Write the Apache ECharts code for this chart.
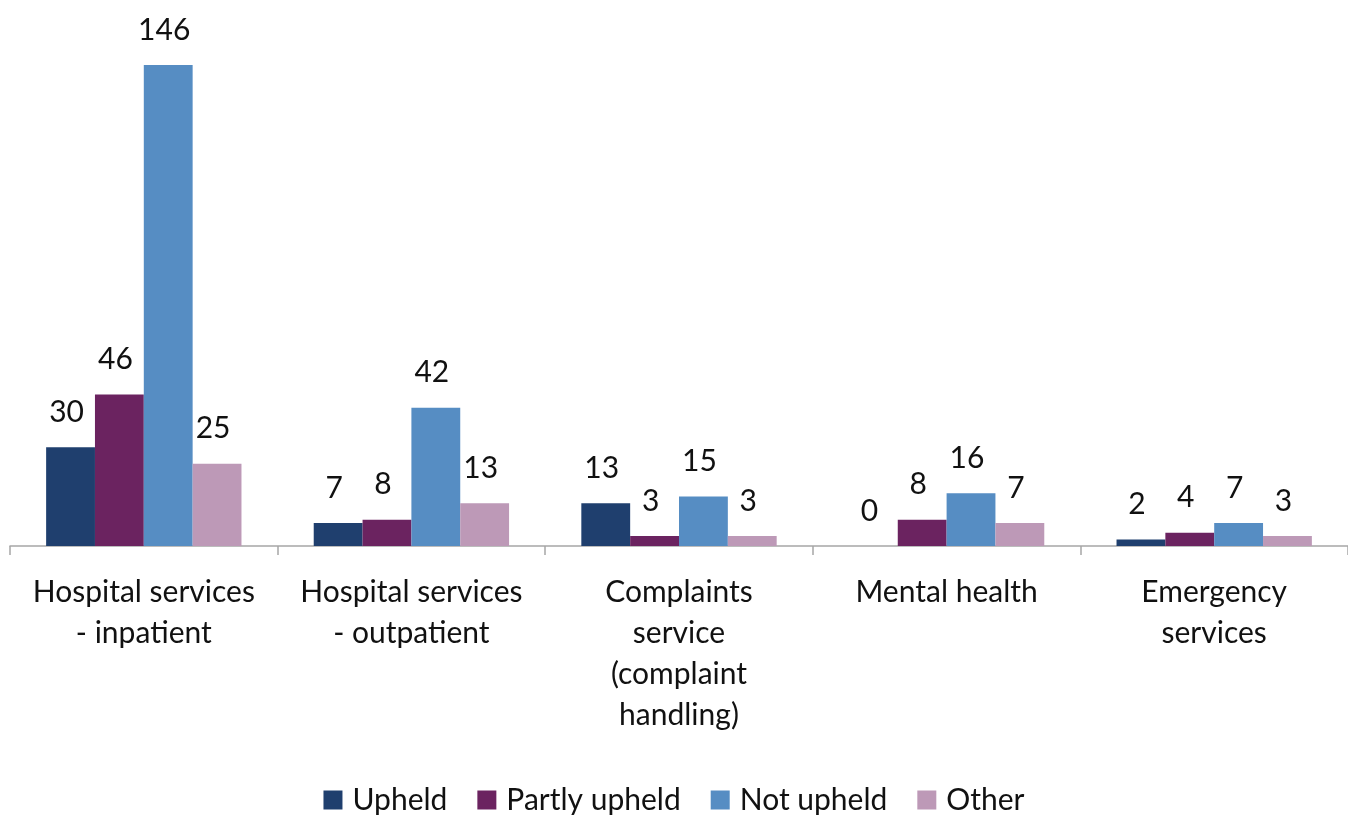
<!DOCTYPE html>
<html>
<head>
<meta charset="utf-8">
<script src="https://cdn.jsdelivr.net/npm/echarts@6/dist/echarts.min.js"></script>
<style>
  html, body { margin: 0; padding: 0; background: #ffffff; }
  #chart { width: 1348px; height: 817px; }
</style>
</head>
<body>
<div id="chart"></div>
<script>
// Complaint categories and outcome counts
const categories = [
  'Hospital services\n- inpatient',
  'Hospital services\n- outpatient',
  'Complaints\nservice\n(complaint\nhandling)',
  'Mental health',
  'Emergency\nservices'
];
const upheld = [30, 7, 13, 0, 2];
const partlyUpheld = [46, 8, 3, 8, 4];
const notUpheld = [146, 42, 15, 16, 7];
const other = [25, 13, 3, 7, 3];

const seriesNames = ['Upheld', 'Partly upheld', 'Not upheld', 'Other'];
const seriesColors = ['#1f3f6e', '#6b2360', '#568dc3', '#bd99b7'];
const seriesData = [upheld, partlyUpheld, notUpheld, other];

const FONT = 'Lato';

const chart = echarts.init(document.getElementById('chart'), null, { renderer: 'canvas' });

chart.setOption({
  animation: false,
  textStyle: { fontFamily: FONT },
  grid: { left: 10, right: 0, top: 65, bottom: 271, containLabel: false },
  legend: {
    top: 780,
    left: 'center',
    itemWidth: 19,
    itemHeight: 19,
    itemGap: 30,
    icon: 'rect',
    textStyle: { fontFamily: FONT, fontSize: 30, color: '#111', padding: [0, 0, 0, 5] },
    data: seriesNames
  },
  xAxis: {
    type: 'category',
    data: categories,
    axisLine: { lineStyle: { color: '#a6a6a6', width: 1.5 } },
    axisTick: { show: true, length: 9, lineStyle: { color: '#a6a6a6', width: 1.5 } },
    axisLabel: {
      interval: 0,
      margin: 26,
      fontFamily: FONT,
      fontSize: 30,
      lineHeight: 41,
      color: '#111'
    }
  },
  yAxis: {
    type: 'value',
    min: 0,
    max: 146,
    show: false,
    splitLine: { show: false }
  },
  series: seriesData.map((data, i) => ({
    name: seriesNames[i],
    type: 'bar',
    data: data,
    barGap: '0%',
    barCategoryGap: '27%',
    itemStyle: { color: seriesColors[i] },
    label: {
      show: true,
      position: 'top',
      distance: 20,
      offset: [-4, 0],
      fontFamily: FONT,
      fontSize: 30,
      color: '#111'
    }
  }))
});
</script>
</body>
</html>
